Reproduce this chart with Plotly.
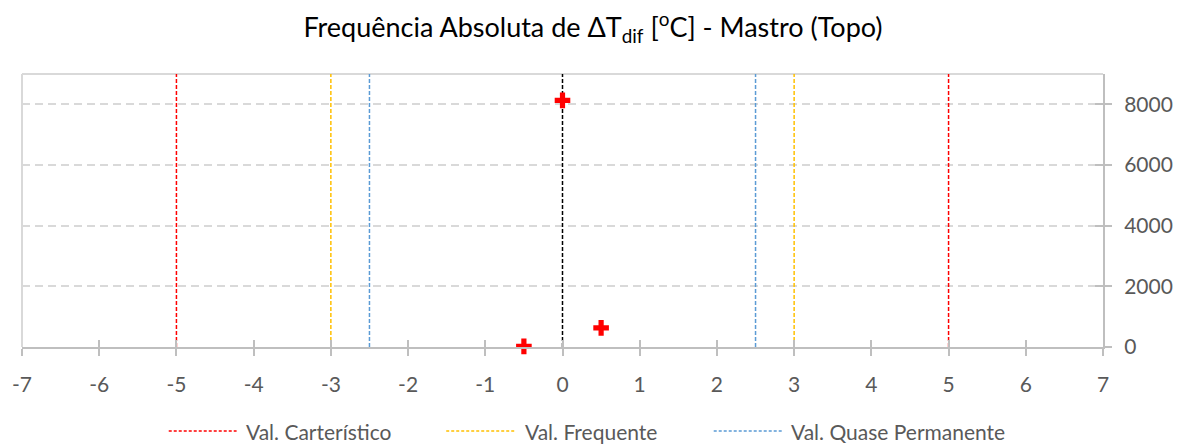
import plotly.graph_objects as go

# Frequency points (ΔT_dif [°C] vs absolute count)
dt_values = [-0.5, 0.0, 0.5]
frequencies = [20, 8130, 630]

# Reference limits drawn as vertical lines
char_limits = [-5, 5]
freq_limits = [-3, 3]
quasi_limits = [-2.5, 2.5]
zero_line = [0]

x_ticks = [-7, -6, -5, -4, -3, -2, -1, 0, 1, 2, 3, 4, 5, 6, 7]
y_ticks = [0, 2000, 4000, 6000, 8000]
y_top = 9000

legend_names = ["Val. Carterístico", "Val. Frequente", "Val. Quase Permanente"]
legend_colors = ["#FF0000", "#FFC000", "#5B9BD5"]

FONT = "Lato, 'Open Sans', sans-serif"
TXT = "#595959"
AXIS = "#BFBFBF"
GRID = "#D9D9D9"

W, H = 1186, 445
ML, MR, MT, MB = 20, 83, 74, 98
PW, PH = W - ML - MR, H - MT - MB


def px_x(p):
    return (p - ML) / PW


def px_y(p):
    return (H - MB - p) / PH


def vlines(xs):
    px, py = [], []
    for x in xs:
        px += [x, x, None]
        py += [0, y_top, None]
    return px, py


fig = go.Figure()

for xs, color, name in [
    (char_limits, legend_colors[0], legend_names[0]),
    (freq_limits, legend_colors[1], legend_names[1]),
    (quasi_limits, legend_colors[2], legend_names[2]),
    (zero_line, "#000000", "ΔT = 0"),
]:
    lx, ly = vlines(xs)
    fig.add_trace(go.Scatter(
        x=lx, y=ly, mode="lines", name=name, showlegend=False,
        line=dict(color=color, width=1.5, dash="4px,2px"),
        hoverinfo="skip",
    ))

fig.add_trace(go.Scatter(
    x=dt_values, y=frequencies, mode="markers", showlegend=False,
    name="Frequência", cliponaxis=False,
    marker=dict(symbol="cross", size=13, color="#FF0000", line=dict(width=0)),
))

# Invisible trace so the overlay axes (inner tick marks) are drawn
fig.add_trace(go.Scatter(x=[0], y=[0], xaxis="x2", yaxis="y2", mode="markers",
                         marker=dict(opacity=0), showlegend=False,
                         hoverinfo="skip"))

# Plot-area frame (top and left edges)
fig.add_shape(type="line", xref="paper", yref="paper", x0=0, x1=1, y0=1, y1=1,
              line=dict(color=GRID, width=2), layer="below")
fig.add_shape(type="line", xref="paper", yref="paper", x0=0, x1=0, y0=0, y1=1,
              line=dict(color=GRID, width=2), layer="below")

# Legend drawn below the chart: dashed sample + label
legend_sample_px = [(167, 235), (445, 515), (713, 782)]
legend_text_px = [242, 522, 788]
legend_y_px = 431
for (x0, x1), tx, name, color in zip(legend_sample_px, legend_text_px,
                                     legend_names, legend_colors):
    fig.add_shape(type="line", xref="paper", yref="paper",
                  x0=px_x(x0), x1=px_x(x1), y0=px_y(legend_y_px), y1=px_y(legend_y_px),
                  line=dict(color=color, width=1.5, dash="3px,2px"))
    fig.add_annotation(xref="paper", yref="paper", x=px_x(tx), y=px_y(legend_y_px),
                       text=name, showarrow=False, xanchor="left", yanchor="middle",
                       font=dict(family=FONT, size=21, color=TXT))

fig.update_layout(
    width=W, height=H,
    margin=dict(l=ML, r=MR, t=MT, b=MB),
    paper_bgcolor="white", plot_bgcolor="white",
    font=dict(family=FONT, size=21, color=TXT),
    showlegend=False,
    title=dict(
        text="Frequência Absoluta de ΔT<sub>dif</sub> [<sup>o</sup>C] - Mastro (Topo)",
        x=0.5, xanchor="center", y=1 - 28 / H, yanchor="middle",
        font=dict(family=FONT, size=27, color="#000000"),
    ),
    xaxis=dict(
        range=[-7, 7], tickvals=x_ticks, ticktext=[str(v) for v in x_ticks],
        showgrid=False, zeroline=False,
        showline=True, linecolor=AXIS, linewidth=2,
        ticks="outside", ticklen=7, tickcolor=AXIS, tickwidth=2,
        ticklabelstandoff=11,
        tickfont=dict(size=21, color=TXT),
    ),
    yaxis=dict(
        range=[0, y_top], side="right", tickvals=y_ticks,
        ticktext=[str(v) for v in y_ticks],
        showgrid=True, gridcolor=GRID, griddash="8px,5px", gridwidth=1.5,
        zeroline=False,
        showline=True, linecolor=AXIS, linewidth=2,
        ticks="outside", ticklen=7, tickcolor=AXIS, tickwidth=2,
        ticklabelstandoff=8,
        tickfont=dict(size=21, color=TXT),
    ),
    xaxis2=dict(
        overlaying="x", matches="x", anchor="y", side="bottom",
        tickvals=x_ticks, showticklabels=False, showgrid=False, zeroline=False,
        ticks="inside", ticklen=7, tickcolor=AXIS, tickwidth=2, showline=False,
    ),
    yaxis2=dict(
        overlaying="y", matches="y", anchor="x", side="right",
        tickvals=y_ticks, showticklabels=False, showgrid=False, zeroline=False,
        ticks="inside", ticklen=8, tickcolor=AXIS, tickwidth=2, showline=False,
    ),
)

fig.write_html("out.html")
